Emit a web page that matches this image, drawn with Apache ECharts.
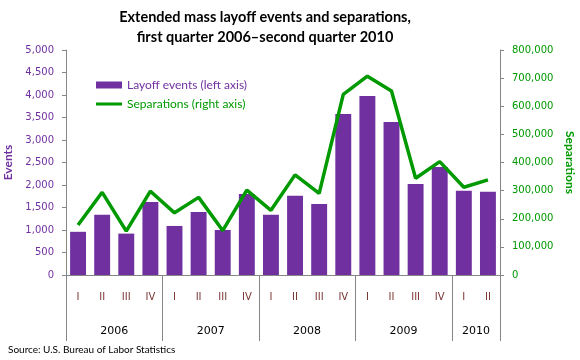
<!DOCTYPE html>
<html><head><meta charset="utf-8">
<script src="https://cdn.jsdelivr.net/npm/echarts@6/dist/echarts.min.js"></script>
<style>html,body{margin:0;padding:0;background:#fff}#c{width:580px;height:360px}</style>
</head><body><div id="c"></div>
<script>
var quarters = ['I','II','III','IV','I','II','III','IV','I','II','III','IV','I','II','III','IV','I','II'];
var years = ['2006','2007','2008','2009','2010'];
var quartersPerYear = [4,4,4,4,2];
var layoffEvents = [960,1340,920,1620,1090,1400,1000,1800,1340,1760,1580,3580,3980,3400,2020,2400,1870,1850];
var separations = [178000,294000,156000,298000,221000,276000,158000,302000,230000,356000,290000,642000,707000,654000,344000,403000,312000,338000];
var leftTicks = [0,500,1000,1500,2000,2500,3000,3500,4000,4500,5000];
var rightTicks = [0,100000,200000,300000,400000,500000,600000,700000,800000];

var bounds = [0], centers = [], acc = 0;
quartersPerYear.forEach(function(n){ centers.push(acc + n/2); acc += n; bounds.push(acc); });

var purple = '#7030A0', green = '#009900', axisGray = '#868686';
var fmt = function(v){ return v.toLocaleString('en-US'); };
var chart = echarts.init(document.getElementById('c'));
chart.setOption({
  animation: false,
  title: {
    text: 'Extended mass layoff events and separations,\nfirst quarter 2006\u2013second quarter 2010',
    left: 260, top: 2, textAlign: 'center',
    textStyle: {fontFamily: 'Lato', fontWeight: 'bold', fontSize: 14.5, lineHeight: 20, color: '#000'}
  },
  legend: {
    orient: 'vertical', left: 91, top: 74, itemGap: 7, itemWidth: 26, itemHeight: 7,
    textStyle: {fontFamily: 'Lato', fontSize: 12},
    data: [
      {name: 'Layoff events (left axis)', icon: 'rect', textStyle: {color: purple}},
      {name: 'Separations (right axis)', icon: 'path://M0,0L0.01,0ZM0,2H26V5H0ZM0,7L0.01,7Z', textStyle: {color: green}}
    ]
  },
  grid: {left: 66, right: 80, top: 50, bottom: 85, containLabel: false, outerBoundsMode: 'none'},
  xAxis: [
    {type: 'category', data: quarters, position: 'bottom',
     axisLine: {lineStyle: {color: axisGray}},
     axisTick: {length: 33, lineStyle: {color: axisGray}},
     axisLabel: {margin: 17, color: '#7a3434', fontFamily: 'DejaVu Sans', fontSize: 10}},
    {type: 'value', min: 0, max: quarters.length, position: 'bottom', splitLine: {show: false},
     axisLine: {show: false},
     axisTick: {show: true, length: 66, customValues: bounds, lineStyle: {color: axisGray}},
     axisLabel: {margin: 51, customValues: centers, color: '#000', fontFamily: 'DejaVu Sans', fontSize: 11,
       formatter: function(v){ var i = centers.indexOf(v); return i >= 0 ? years[i] : ''; }}}
  ],
  yAxis: [
    {type: 'value', min: leftTicks[0], max: leftTicks[leftTicks.length-1], interval: leftTicks[1]-leftTicks[0],
     name: 'Events', nameLocation: 'middle', nameGap: 50, nameRotate: 90,
     nameTextStyle: {color: purple, fontWeight: 'bold', fontFamily: 'Lato', fontSize: 12},
     axisLine: {show: true, lineStyle: {color: axisGray}},
     axisTick: {show: true, length: 4, lineStyle: {color: axisGray}},
     splitLine: {show: false},
     axisLabel: {color: purple, fontFamily: 'DejaVu Sans', fontSize: 10, margin: 12, formatter: fmt}},
    {type: 'value', min: rightTicks[0], max: rightTicks[rightTicks.length-1], interval: rightTicks[1]-rightTicks[0],
     position: 'right',
     name: 'Separations', nameLocation: 'middle', nameGap: 64, nameRotate: -90,
     nameTextStyle: {color: green, fontWeight: 'bold', fontFamily: 'Lato', fontSize: 12},
     axisLine: {show: true, lineStyle: {color: axisGray}},
     axisTick: {show: true, length: 4, lineStyle: {color: axisGray}},
     splitLine: {show: false},
     axisLabel: {color: green, fontFamily: 'DejaVu Sans', fontSize: 10, margin: 12, formatter: fmt}}
  ],
  series: [
    {name: 'Layoff events (left axis)', type: 'bar', data: layoffEvents, xAxisIndex: 0, yAxisIndex: 0,
     barWidth: '66%', itemStyle: {color: purple}},
    {name: 'Separations (right axis)', type: 'line', data: separations, xAxisIndex: 0, yAxisIndex: 1,
     symbol: 'none', lineStyle: {color: green, width: 3.5}, itemStyle: {color: green}}
  ],
  graphic: [{type: 'text', left: 8, top: 345,
    style: {text: 'Source: U.S. Bureau of Labor Statistics', fill: '#000', font: '10px Lato'}}]
});
</script></body></html>
